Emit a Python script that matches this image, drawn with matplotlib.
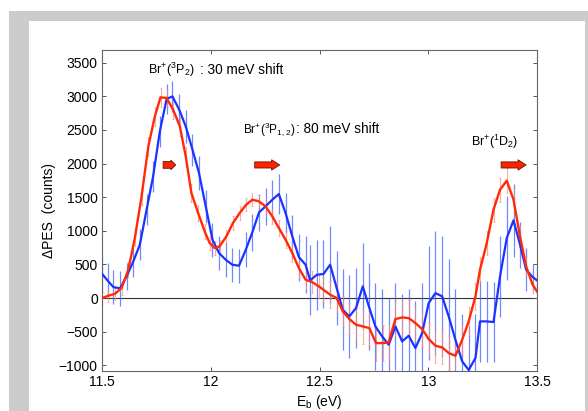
import matplotlib
matplotlib.use('Agg')
import matplotlib.pyplot as plt
from matplotlib.patches import Rectangle

plt.rcParams['font.family'] = ['Liberation Sans', 'DejaVu Sans']
plt.rcParams['mathtext.fontset'] = 'custom'
plt.rcParams['mathtext.rm'] = 'Liberation Sans'
plt.rcParams['mathtext.it'] = 'Liberation Sans:italic'
plt.rcParams['mathtext.default'] = 'regular'

## DATA
blue_x = [11.500, 11.527, 11.552, 11.583, 11.613, 11.644, 11.674, 11.705, 11.735, 11.766,
          11.797, 11.824, 11.855, 11.885, 11.916, 11.946, 11.977, 12.008, 12.038, 12.069,
          12.099, 12.130, 12.161, 12.191, 12.222, 12.252, 12.283, 12.313, 12.344, 12.375,
          12.405, 12.436, 12.457, 12.488, 12.518, 12.549, 12.579, 12.607, 12.637, 12.668,
          12.699, 12.727, 12.757, 12.788, 12.818, 12.849, 12.880, 12.910, 12.941, 12.972,
          13.002, 13.033, 13.064, 13.094, 13.125, 13.156, 13.186, 13.217, 13.238, 13.269,
          13.300, 13.330, 13.361, 13.392, 13.422, 13.450, 13.480, 13.500]
blue_y = [362, 255, 164, 144, 322, 546, 794, 1314, 1810, 2480,
          2961, 3000, 2802, 2554, 2207, 1860, 1364, 868, 670, 570,
          496, 481, 719, 977, 1275, 1364, 1463, 1547, 1265, 918,
          610, 496, 263, 347, 357, 496, 149, -174, -273, -149,
          174, -124, -422, -570, -694, -422, -645, -560, -744, -521,
          -74, 74, 25, -273, -620, -942, -1070, -893, -347, -347,
          -357, 322, 893, 1156, 794, 422, 312, 263]
blue_err = [270, 260, 250, 255, 200, 240, 230, 230, 230, 230,
            225, 225, 230, 240, 240, 250, 250, 250, 250, 250,
            250, 250, 260, 270, 280, 280, 290, 300, 300, 320,
            350, 420, 520, 520, 500, 570, 550, 600, 620, 600,
            640, 650, 650, 700, 700, 650, 700, 700, 700, 750,
            850, 920, 900, 850, 750, 700, 650, 650, 600, 600,
            600, 600, 620, 540, 340, 320, 200, 200]

red_x = [11.500, 11.529, 11.560, 11.590, 11.621, 11.651, 11.682, 11.713, 11.743, 11.769,
         11.797, 11.827, 11.858, 11.885, 11.911, 11.942, 11.972, 11.995, 12.018, 12.041,
         12.072, 12.102, 12.133, 12.163, 12.191, 12.222, 12.252, 12.283, 12.313, 12.344,
         12.375, 12.405, 12.436, 12.466, 12.497, 12.518, 12.549, 12.579, 12.607, 12.637,
         12.668, 12.699, 12.729, 12.760, 12.790, 12.818, 12.849, 12.880, 12.910, 12.941,
         12.972, 13.002, 13.033, 13.064, 13.094, 13.125, 13.156, 13.186, 13.217, 13.238,
         13.269, 13.300, 13.330, 13.361, 13.392, 13.422, 13.450, 13.480, 13.500]
red_y = [0, 35, 64, 149, 422, 893, 1513, 2257, 2703, 2986,
         2976, 2802, 2554, 2108, 1562, 1265, 992, 818, 744, 769,
         918, 1116, 1265, 1389, 1463, 1438, 1364, 1215, 1042, 868,
         670, 446, 273, 238, 174, 124, 50, 0, -198, -312,
         -397, -422, -446, -670, -670, -660, -312, -288, -298, -372,
         -461, -610, -709, -734, -818, -858, -620, -347, 25, 422,
         818, 1314, 1612, 1746, 1463, 918, 471, 198, 99]
red_err = [90, 90, 90, 100, 110, 120, 130, 140, 140, 140,
           140, 140, 140, 140, 130, 120, 110, 110, 100, 100,
           100, 100, 100, 100, 100, 100, 100, 110, 120, 130,
           140, 150, 160, 170, 180, 190, 200, 220, 230, 240,
           250, 260, 260, 260, 270, 270, 270, 270, 270, 260,
           260, 250, 250, 250, 250, 240, 230, 220, 200, 190,
           180, 180, 180, 190, 180, 160, 150, 120, 100]

xtick_vals = [11.5, 12, 12.5, 13, 13.5]
xtick_labels = ['11.5', '12', '12.5', '13', '13.5']
ytick_vals = [-1000, -500, 0, 500, 1000, 1500, 2000, 2500, 3000, 3500]

# shift arrows: (start, end)
arrows = [(11.781, 11.839), (12.202, 12.317), (13.335, 13.450)]
arrow_y = 1980

blue = '#1a33ff'
red = '#ff2a0a'

fig = plt.figure(figsize=(5.88, 4.11), dpi=100)
fig.patches.append(Rectangle((9/588, 0), 1, 400/411, transform=fig.transFigure,
                             facecolor='#cccccc', edgecolor='none', zorder=-3))
fig.patches.append(Rectangle((29/588, 0), (585-29)/588, 390/411, transform=fig.transFigure,
                             facecolor='white', edgecolor='none', zorder=-2))

ax = fig.add_axes([102/588, 1-371/411, 435/588, 321/411])

ax.axhline(0, color='#333333', lw=0.8, zorder=1)

ax.errorbar(blue_x, blue_y, yerr=blue_err, fmt='none', ecolor='#4060ff', elinewidth=0.9,
            capsize=0, alpha=0.75, zorder=2)
ax.errorbar(red_x, red_y, yerr=red_err, fmt='none', ecolor='#ff8a70', elinewidth=0.8,
            capsize=0.8, capthick=0.6, alpha=0.7, zorder=2)
ax.plot(blue_x, blue_y, color=blue, lw=1.6, zorder=3)
ax.plot(red_x, red_y, color=red, lw=1.7, zorder=4)

# red block arrows
for i, (x0, x1) in enumerate(arrows):
    if i == 0:
        style = 'simple,head_length=0.35,head_width=0.68,tail_width=0.48'
    else:
        style = 'simple,head_length=0.58,head_width=0.74,tail_width=0.44'
    ax.annotate('', xy=(x1, arrow_y), xytext=(x0, arrow_y),
                arrowprops=dict(arrowstyle=style, mutation_scale=10, fc='#ff2200',
                                ec='#6a1000', lw=0.6, shrinkA=0, shrinkB=0), zorder=5)

ax.set_xlim(11.5, 13.5)
ax.set_ylim(-1085, 3690)
ax.set_xticks(xtick_vals)
ax.set_xticklabels(xtick_labels)
ax.set_yticks(ytick_vals)
ax.tick_params(direction='in', length=3, width=0.7, color='#555555', labelsize=10,
               top=True, right=True, pad=3)
for s in ax.spines.values():
    s.set_color('#666666')
    s.set_linewidth(0.8)

ax.set_ylabel(u'\u0394PES  (counts)', fontsize=10)
ax.set_xlabel(r'E$_{b}$ (eV)', fontsize=10)
ax.yaxis.set_label_coords(-0.106, 0.5)
ax.xaxis.set_label_coords(0.5, -0.068)

# labels: small species name followed by the larger shift text
t1 = ax.text(11.712, 3340, r'Br$^{+}$($^{3}$P$_{2}$)', fontsize=9, va='baseline')
t2 = ax.text(12.150, 2455, r'Br$^{+}$($^{3}$P$_{1,2}$)', fontsize=8.5, va='baseline')
ax.text(13.197, 2256, r'Br$^{+}$($^{1}$D$_{2}$)', fontsize=9, va='baseline')

fig.canvas.draw()
r = fig.canvas.get_renderer()
inv = ax.transData.inverted()
x1 = inv.transform((t1.get_window_extent(r).x1 + 5, 0))[0]
ax.text(x1, 3340, ': 30 meV shift', fontsize=9.8, va='baseline')
x2 = inv.transform((t2.get_window_extent(r).x1, 0))[0]
ax.text(x2, 2455, ': 80 meV shift', fontsize=9.8, va='baseline')

fig.savefig('out.png', dpi=100)
